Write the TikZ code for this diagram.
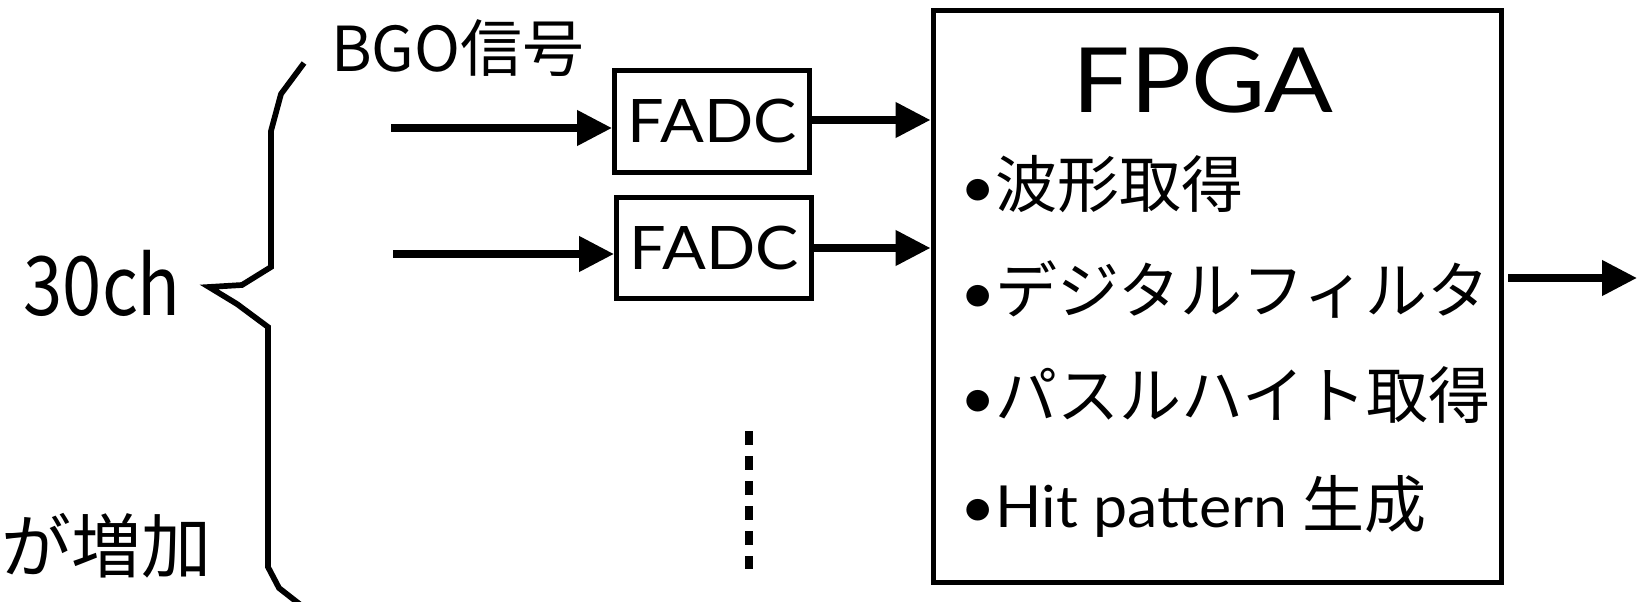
\documentclass[tikz,border=0pt]{standalone}
\usepackage{fontspec}
\setmainfont{Lato}
\newfontfamily\jp{Noto Sans CJK JP}
\usetikzlibrary{arrows.meta}
\newcommand\jpt[1]{{\jp\fontsize{62}{62}\selectfont #1}}
\newcommand\lat[1]{\scalebox{1.05}[1]{\fontsize{58}{58}\selectfont #1}}
\begin{document}
\begin{tikzpicture}[x=1pt,y=-1pt,
  conn/.style={line width=7.5pt,-{Triangle[length=35pt,width=34pt]}},
  adcbox/.style={draw,line width=5pt,inner sep=0pt,minimum width=195pt,minimum height=101pt},
  bigbox/.style={draw,line width=5pt,inner sep=0pt,minimum width=568pt,minimum height=571pt},
  item/.style={anchor=base west,inner sep=0pt}]
\useasboundingbox (0,0) rectangle (1644,602);

% brace
\draw[line width=5.7pt] (304,63) -- (281,94) -- (271,131) -- (271,267) -- (242,285) -- (209,287)
  -- (237,304) -- (268,327) -- (268,567) -- (279,588) -- (302,606);

\node[anchor=base west,inner sep=0pt] (bgo) at (331,71) {\jp\fontsize{62}{62}\selectfont BGO信号};
\node[anchor=base east,inner sep=0pt] (ch) at (181,315) {\scalebox{0.86}[1]{\jp\fontsize{82}{82}\selectfont 30ch}};
\node[anchor=base east,inner sep=0pt] (inc) at (212,572) {\jp\fontsize{70}{70}\selectfont が増加};

\node[adcbox] (adc1) at (712,121.5) {\scalebox{1.08}[1]{\fontsize{60}{60}\selectfont FADC}};
\node[adcbox] (adc2) at (714,248) {\scalebox{1.08}[1]{\fontsize{60}{60}\selectfont FADC}};
\node[bigbox] (fpga) at (1217,296.5) {};

\node[anchor=base,inner sep=0pt] (title) at (1203,112) {\scalebox{1.13}[1]{\fontsize{90}{90}\selectfont FPGA}};
\node[item] (i1) at (960,207) {\lat{•}\jpt{波形取得}};
\node[item] (i2) at (960,313) {\lat{•}\jpt{デジタルフィルタ}};
\node[item] (i3) at (960,418) {\lat{•}\jpt{パスルハイト取得}};
\node[item] (i4) at (960,527) {\lat{•Hit pattern }\jpt{生成}};

\coordinate (in1) at (391,128);
\coordinate (in2) at (393,254);
\draw[conn] (in1) -- (in1 -| adc1.west);
\draw[conn] (in2) -- (in2 -| adc2.west);
\draw[conn] ([yshift=1.5pt]adc1.east) -- ([yshift=1.5pt]adc1.east -| fpga.west);
\draw[conn] (adc2.east) -- (adc2.east -| fpga.west);

\coordinate (o1) at (1508,278);
\coordinate (o2) at (1637,278);
\draw[conn] (o1) -- (o2);

\coordinate (d1) at (749,431);
\coordinate (d2) at (749,569);
\draw[line width=8pt,dash pattern=on 14pt off 11pt] (d1) -- (d2);
\end{tikzpicture}
\end{document}
